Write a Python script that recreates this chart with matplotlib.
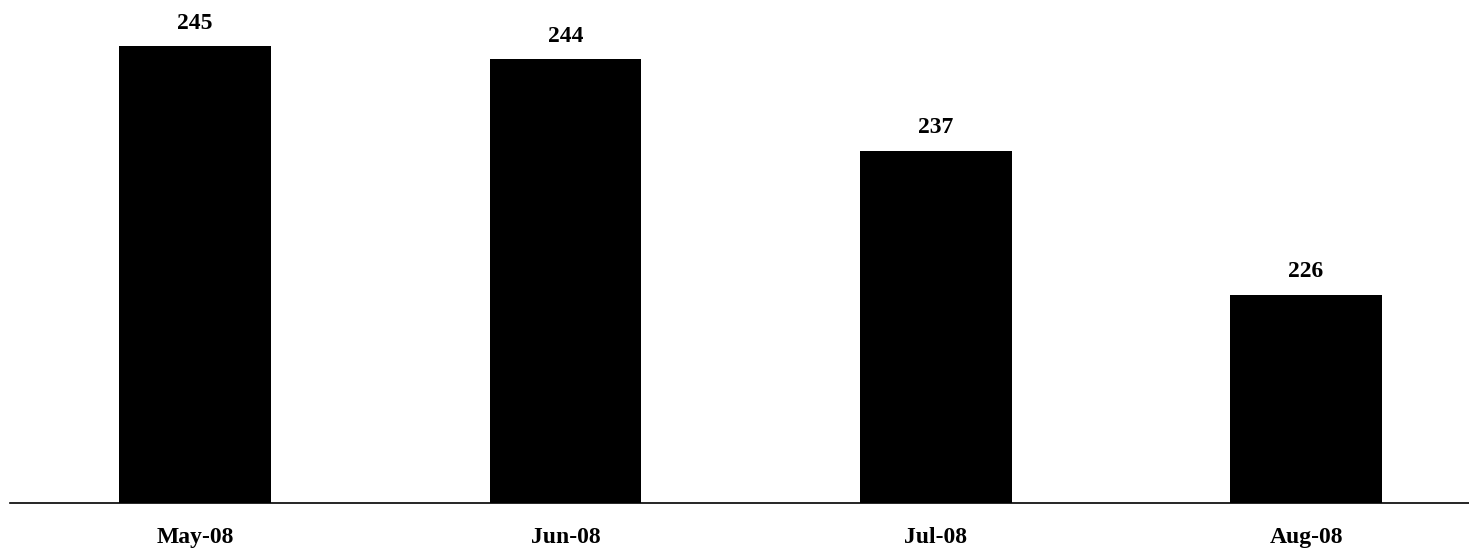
import matplotlib.pyplot as plt
import numpy as np

# data
months = ['May-08', 'Jun-08', 'Jul-08', 'Aug-08']
values = [245, 244, 237, 226]

plt.rcParams['font.family'] = ['Liberation Serif', 'DejaVu Serif']

fig = plt.figure(figsize=(14.69, 5.6), dpi=100)
ax = fig.add_axes([10/1469, 1 - 503/560, 1 - 10/1469, 503/560])

x = np.arange(len(months))
bars = ax.bar(x, values, width=0.41, color='black')

# value labels above bars
for b, v in zip(bars, values):
    ax.annotate(str(v), (b.get_x() + b.get_width()/2, v), xytext=(0, 9),
                textcoords='offset points', ha='center', va='bottom',
                fontsize=17, fontweight='bold')

ax.set_ylim(210.05, 248.54)
ax.set_xlim(-0.5, 3.44)
ax.set_xticks(x)
ax.set_xticklabels(months, fontsize=17, fontweight='bold')
ax.tick_params(axis='x', length=0, pad=17)
ax.set_yticks([])
for s in ['top', 'right', 'left']:
    ax.spines[s].set_visible(False)
ax.spines['bottom'].set_linewidth(1.2)

fig.savefig('out.png', dpi=100)
